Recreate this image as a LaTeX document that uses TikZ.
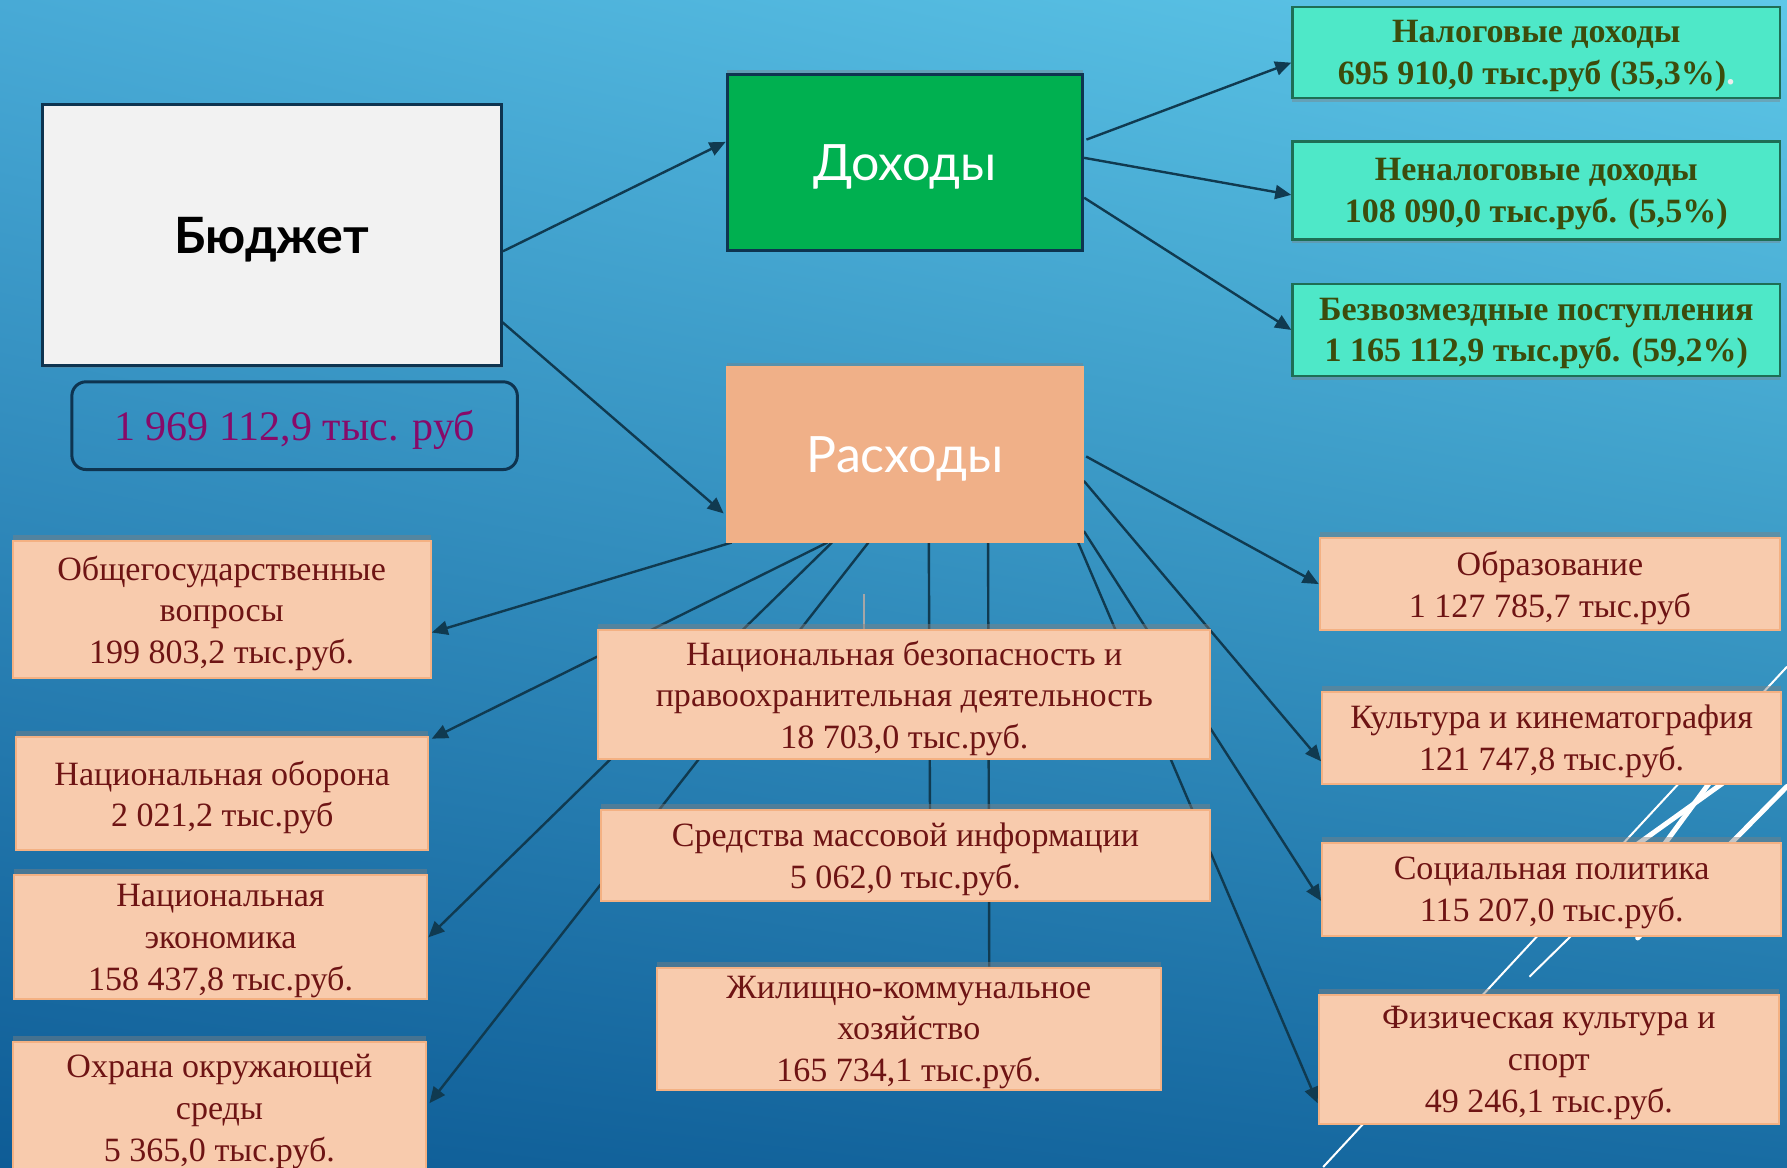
\documentclass[tikz,border=0pt]{standalone}
\usepackage{fontspec}
\setmainfont{Liberation Serif}
\newfontfamily\gothic{Lato}
\usetikzlibrary{shadows,shadings,arrows.meta,backgrounds}
\definecolor{bgul}{RGB}{72,170,214}
\definecolor{bgur}{RGB}{94,200,232}
\definecolor{bgll}{RGB}{14,92,150}
\definecolor{bglr}{RGB}{24,108,163}
\definecolor{bnavy}{RGB}{14,52,80}
\definecolor{linecol}{RGB}{16,58,80}
\definecolor{peach}{RGB}{248,203,173}
\definecolor{peachline}{RGB}{244,177,131}
\definecolor{wine}{RGB}{110,20,20}
\definecolor{teal1}{RGB}{78,232,200}
\definecolor{tealline}{RGB}{30,110,85}
\definecolor{olive1}{RGB}{60,76,12}
\definecolor{bgreen}{RGB}{0,176,80}
\definecolor{salmon}{RGB}{240,176,136}
\definecolor{plum}{RGB}{135,10,105}
\definecolor{bgray}{RGB}{242,242,242}
\tikzstyle{budget}=[rectangle, draw=bnavy, line width=1.5pt, fill=bgray, text depth=-1pt, font=\gothic\bfseries\fontsize{25}{29}\selectfont, drop shadow={shadow xshift=1pt, shadow yshift=-1pt, opacity=0.3}]
\tikzstyle{total}=[rectangle, draw=bnavy, line width=1.5pt, rounded corners=0.25cm, text=plum, text depth=0pt, font=\fontsize{21}{25}\selectfont]
\tikzstyle{head1}=[rectangle, draw=bnavy, line width=1.5pt, fill=bgreen, text=white, text depth=-5pt, font=\gothic\fontsize{25}{30}\selectfont, drop shadow={shadow xshift=0pt, shadow yshift=2pt, opacity=0.4}]
\tikzstyle{head2}=[rectangle, draw=peachline, line width=1.2pt, fill=salmon, text=white, text depth=-5pt, font=\gothic\fontsize{25}{30}\selectfont, drop shadow={shadow xshift=0pt, shadow yshift=2pt, opacity=0.4}]
\tikzstyle{inbox}=[rectangle, draw=tealline, line width=1.2pt, fill=teal1, text=olive1, align=center, inner sep=2pt, text depth=-3.5pt, font=\bfseries\fontsize{17}{20.8}\selectfont, drop shadow={shadow xshift=0pt, shadow yshift=-2pt, opacity=0.4}]
\tikzstyle{outbox}=[rectangle, draw=peachline, line width=1pt, fill=peach, text=wine, align=center, inner sep=2pt, text depth=-3.5pt, font=\fontsize{17}{20.8}\selectfont, drop shadow={shadow xshift=0pt, shadow yshift=3pt, opacity=0.45}]
\tikzstyle{conn}=[draw=linecol, line width=1.2pt, -{Triangle[length=8pt,width=7pt]}]
\tikzstyle{conn2}=[draw=linecol, line width=1.2pt]
\tikzstyle{deco}=[draw=white, line width=1pt]
\tikzstyle{deco2}=[draw=white, line width=2.5pt, line cap=round]

\begin{document}
\begin{tikzpicture}[x=0.02cm,y=-0.02cm]
\useasboundingbox (0,0) rectangle (1568,1024);
%background
\begin{scope}[on background layer]
\shade[upper left=bgul, upper right=bgur, lower left=bgll, lower right=bglr] (0,0) rectangle (1568,1024);
\draw[deco] (1568,585) -- (1161,1024);
\draw[deco] (1392,808) -- (1342,857);
\draw[deco2] (1530,674) -- (1428,747);
\draw[deco2] (1505,680) -- (1458,744);
\draw[deco2] (1568,690) -- (1437,823);
\end{scope}

%Budget
\node[budget, minimum width=8.06cm, minimum height=4.58cm] (bud) at (238.5,206.5){Бюджет};
\node[total, minimum width=7.82cm, minimum height=1.54cm] (sum) at (258.5,373.5){1 969 112,9 тыс. руб};
\node[head1, minimum width=6.24cm, minimum height=3.1cm] (doh) at (794,142.5){Доходы};
\node[head2, minimum width=6.24cm, minimum height=3.06cm] (ras) at (794,398.5){Расходы};

%Incomes
\node[inbox, minimum width=8.56cm, minimum height=1.6cm] (nal) at (1348,46){Налоговые доходы\\695 910,0 тыс.руб (35,3\%)\textcolor{white!85!gray}{.}};
\node[inbox, minimum width=8.56cm, minimum height=1.72cm] (nenal) at (1348,167){Неналоговые доходы\\108 090,0 тыс.руб. (5,5\%)};
\node[inbox, minimum width=8.56cm, minimum height=1.62cm] (bezv) at (1348,289.5){Безвозмездные поступления\\1 165 112,9 тыс.руб. (59,2\%)};

%Expenses left
\node[outbox, minimum width=7.34cm, minimum height=2.4cm] (obsh) at (194.5,535){Общегосударственные\\вопросы\\199 803,2 тыс.руб.};
\node[outbox, minimum width=7.24cm, minimum height=1.98cm] (obor) at (195,696.5){Национальная оборона\\2 021,2 тыс.руб};
\node[outbox, minimum width=7.26cm, minimum height=2.18cm] (ekon) at (193.5,822.5){Национальная\\экономика\\158 437,8 тыс.руб.};
\node[outbox, minimum width=7.26cm, minimum height=2.32cm] (ohr) at (192.5,972){Охрана окружающей\\среды\\5 365,0 тыс.руб.};

%Expenses middle
\node[outbox, minimum width=10.74cm, minimum height=2.26cm] (bez) at (793.5,609.5){Национальная безопасность и\\правоохранительная деятельность\\18 703,0 тыс.руб.};
\node[outbox, minimum width=10.7cm, minimum height=1.6cm] (smi) at (794.5,751){Средства массовой информации\\5 062,0 тыс.руб.};
\node[outbox, minimum width=8.86cm, minimum height=2.14cm] (zhkh) at (797.5,902.5){Жилищно-коммунальное\\хозяйство\\165 734,1 тыс.руб.};

%Expenses right
\node[outbox, minimum width=8.08cm, minimum height=1.62cm] (obr) at (1360,512.5){Образование\\1 127 785,7 тыс.руб};
\node[outbox, minimum width=8.06cm, minimum height=1.62cm] (kult) at (1361.5,647.5){Культура и кинематография\\121 747,8 тыс.руб.};
\node[outbox, minimum width=8.06cm, minimum height=1.62cm] (soc) at (1361.5,780.5){Социальная политика\\115 207,0 тыс.руб.};
\node[outbox, minimum width=8.08cm, minimum height=2.26cm] (fiz) at (1359,929.5){Физическая культура и\\спорт\\49 246,1 тыс.руб.};

%Connectors
\begin{scope}[on background layer]
\draw[conn] ([shift={(0,14)}]bud.east) -- ([shift={(0,-18)}]doh.west);
\draw[conn] ([shift={(-3,74)}]bud.east) -- ([shift={(-2,52)}]ras.west);
\draw[conn] ([shift={(2,-20)}]doh.east) -- ([shift={(0,9)}]nal.west);
\draw[conn] ([shift={(0,-4)}]doh.east) -- ([shift={(0,4)}]nenal.west);
\draw[conn] ([shift={(0,31)}]doh.east) -- (bezv.west);
\draw[conn] ([shift={(5,0)}]ras.south west) -- ([shift={(0,20)}]obsh.east);
\draw[conn] ([shift={(89,0)}]ras.south west) -- ([shift={(2,2)}]obor.north east);
\draw[conn] ([shift={(93,0)}]ras.south west) -- (ekon.east);
\draw[conn] ([shift={(125,0)}]ras.south west) -- ([shift={(2,-4)}]ohr.east);
\draw[conn2] ([shift={(178,0)}]ras.south west) -- ([shift={(21.5,0)}]smi.north);
\draw[conn2] ([shift={(230,0)}]ras.south west) -- ([shift={(70.5,0)}]zhkh.north);
\draw[gray!70, line width=0.8pt] ([shift={(-35.5,-31)}]bez.north) -- ([shift={(-35.5,0)}]bez.north);
\draw[conn] ([shift={(2,2)}]ras.east) -- (obr.west);
\draw[conn] ([shift={(0,23.5)}]ras.east) -- ([shift={(0,20.5)}]kult.west);
\draw[conn] ([shift={(0,67.5)}]ras.east) -- ([shift={(0,10)}]soc.west);
\draw[conn] ([shift={(-5,0)}]ras.south east) -- ([shift={(0,38.5)}]fiz.west);
\end{scope}
\end{tikzpicture}
\end{document}
